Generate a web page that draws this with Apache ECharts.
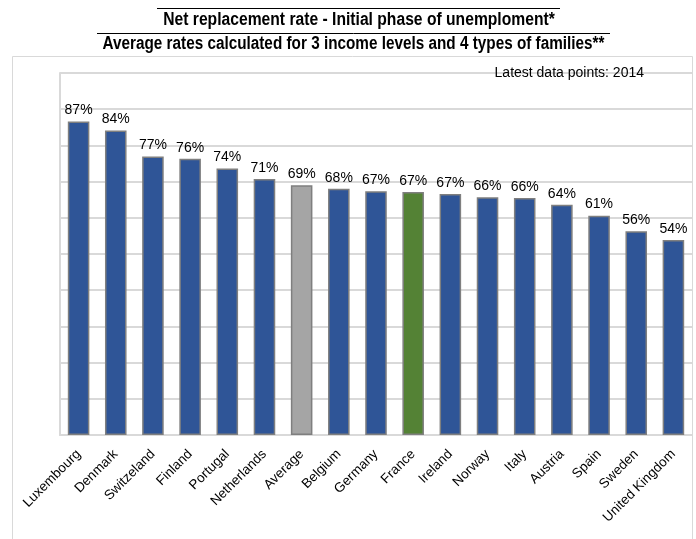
<!DOCTYPE html>
<html><head><meta charset="utf-8">
<script src="https://cdn.jsdelivr.net/npm/echarts@6/dist/echarts.min.js"></script>
<style>html,body{margin:0;padding:0;background:#fff}#c{width:696px;height:539px}</style>
</head><body><div id="c"></div>
<script>
const categories = ["Luxembourg","Denmark","Switzeland","Finland","Portugal","Netherlands","Average","Belgium","Germany","France","Ireland","Norway","Italy","Austria","Spain","Sweden","United Kingdom"];
const values = [86.6, 84.1, 76.9, 76.3, 73.6, 70.7, 69.0, 68.0, 67.3, 67.1, 66.6, 65.7, 65.5, 63.6, 60.6, 56.3, 53.9];
const barColors = {"Average":"#a5a5a5","France":"#548235"};
const defaultColor = "#2f5597";
const titleLine1 = "Net replacement rate - Initial phase of unemploment*";
const titleLine2 = "Average rates calculated for 3 income levels and 4 types of families**";
const note = "Latest data points: 2014";

const chart = echarts.init(document.getElementById('c'), null, {renderer:'canvas'});
const sans = '"Liberation Sans",Arial,sans-serif';
chart.setOption({
  animation:false,
  backgroundColor:'#fff',
  graphic:[
    {type:'rect', shape:{x:12.5,y:56.5,width:680,height:500}, style:{fill:'none',stroke:'#d9d9d9',lineWidth:1}, z:-10},
    {type:'line', shape:{x1:157,y1:8.5,x2:560,y2:8.5}, style:{stroke:'#000',lineWidth:1}},
    {type:'line', shape:{x1:97,y1:33.5,x2:610,y2:33.5}, style:{stroke:'#000',lineWidth:1}},
    {type:'text', x:359, y:20.5, scaleX:0.87, style:{text:titleLine1, x:0, y:0, align:'center', verticalAlign:'middle', font:'bold 18px '+sans, fill:'#000'}},
    {type:'text', x:353.5, y:44, scaleX:0.85, style:{text:titleLine2, x:0, y:0, align:'center', verticalAlign:'middle', font:'bold 18px '+sans, fill:'#000'}},
    {type:'text', x:644, y:73, style:{text:note, x:0, y:0, align:'right', verticalAlign:'middle', font:'14px '+sans, fill:'#000'}, z:100}
  ],
  grid:{left:60, right:4, top:73, bottom:104, containLabel:false},
  xAxis:{
    type:'category', data:categories,
    axisLine:{show:true,lineStyle:{color:'#d9d9d9',width:2}},
    axisTick:{show:false},
    axisLabel:{rotate:45, fontSize:13.5, color:'#000', fontFamily:sans, margin:17, interval:0}
  },
  yAxis:{
    type:'value', min:0, max:100, interval:10,
    axisLabel:{show:false},
    axisLine:{show:true,lineStyle:{color:'#d9d9d9',width:2}},
    axisTick:{show:false},
    splitLine:{show:true,lineStyle:{color:'#d9d9d9',width:2}}
  },
  series:[{
    type:'bar',
    data: values.map((v,i)=>({value:v, itemStyle:{color: barColors[categories[i]] || defaultColor}})),
    barWidth:'58%',
    itemStyle:{borderColor:'#7f7f7f', borderWidth:1.5},
    label:{show:true, position:'top', distance:4, fontSize:14, color:'#000', fontFamily:sans, formatter:p=>Math.round(p.value)+'%'}
  }]
});
</script></body></html>
